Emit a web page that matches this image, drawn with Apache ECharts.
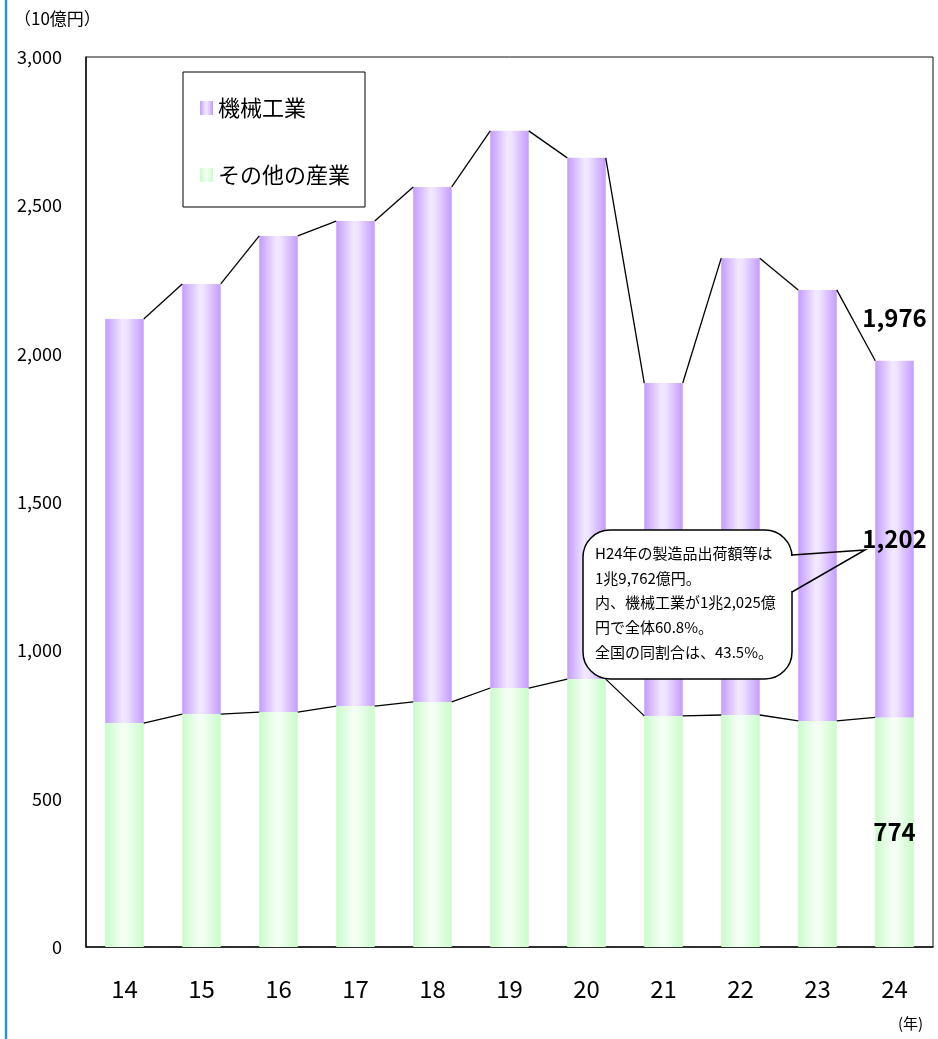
<!DOCTYPE html>
<html>
<head>
<meta charset="utf-8">
<title>製造品出荷額等の推移</title>
<script src="https://cdn.jsdelivr.net/npm/echarts@6/dist/echarts.min.js"></script>
<style>
  html, body { margin: 0; padding: 0; background: #fff; }
  #chart { width: 938px; height: 1039px; }
</style>
</head>
<body>
<div id="chart"></div>
<script>
// 年（平成）
var years = ['14', '15', '16', '17', '18', '19', '20', '21', '22', '23', '24']
// その他の産業（10億円）
var otherValues = [755, 785, 792, 812, 826, 873, 903, 779, 782, 762, 774]
// 機械工業（10億円）
var machineValues = [1362, 1450, 1605, 1635, 1736, 1878, 1757, 1122, 1540, 1453, 1202]
var yTicks = [0, 500, 1000, 1500, 2000, 2500, 3000]

var totals = otherValues.map(function (v, i) { return v + machineValues[i] })
var last = years.length - 1
var fontJP = '"Noto Sans CJK JP", "Noto Sans", sans-serif'

function fmt(v) {
  return Number(v).toLocaleString('en-US')
}

// 系列線（棒の上端どうしを結ぶ線）用データ
function linkData(arr) {
  return arr.slice(0, -1).map(function (v, i) { return [i, v, arr[i + 1]] })
}

function renderLink(params, api) {
  var i = api.value(0)
  var a = api.coord([i, api.value(1)])
  var b = api.coord([i + 1, api.value(2)])
  var hw = api.size([1, 0])[0] * 0.25
  return {
    type: 'line',
    shape: { x1: a[0] + hw, y1: a[1], x2: b[0] - hw, y2: b[1] },
    style: { stroke: '#000', lineWidth: 1.3 }
  }
}

var purple = new echarts.graphic.LinearGradient(0, 0, 1, 0, [
  { offset: 0, color: '#c59cff' },
  { offset: 0.45, color: '#f2e8ff' },
  { offset: 0.55, color: '#efe3ff' },
  { offset: 1, color: '#c59cff' }
])
var green = new echarts.graphic.LinearGradient(0, 0, 1, 0, [
  { offset: 0, color: '#c9fcc9' },
  { offset: 0.45, color: '#f6fff6' },
  { offset: 0.55, color: '#f2fff2' },
  { offset: 1, color: '#c9fcc9' }
])

var chart = echarts.init(document.getElementById('chart'))
chart.setOption({
  backgroundColor: '#fff',
  animation: false,
  textStyle: { fontFamily: fontJP },
  grid: {
    left: 86, right: 5, top: 57, bottom: 92,
    show: true, borderColor: '#111', borderWidth: 1
  },
  legend: {
    orient: 'vertical',
    left: 183, top: 72,
    padding: [25, 15, 21, 17],
    itemGap: 45,
    itemWidth: 13, itemHeight: 14,
    borderColor: '#000', borderWidth: 1,
    backgroundColor: '#fff',
    icon: 'rect',
    data: ['機械工業', 'その他の産業'],
    textStyle: { fontSize: 22, color: '#000', fontFamily: fontJP }
  },
  xAxis: {
    type: 'category',
    data: years,
    axisLine: { lineStyle: { color: '#111', width: 1.5 } },
    axisTick: { show: false },
    axisLabel: { fontSize: 24, color: '#000', margin: 30 }
  },
  yAxis: {
    type: 'value',
    min: yTicks[0],
    max: yTicks[yTicks.length - 1],
    interval: 500,
    axisLine: { show: true, lineStyle: { color: '#111', width: 1.5 } },
    axisTick: { show: false },
    splitLine: { show: false },
    axisLabel: { fontSize: 18, color: '#000', margin: 24, formatter: fmt }
  },
  series: [
    {
      name: 'その他の産業',
      type: 'bar',
      stack: 'total',
      barWidth: '50%',
      itemStyle: { color: green },
      data: otherValues.map(function (v, i) {
        return i === last
          ? { value: v, label: { show: true, position: 'inside', formatter: fmt(v), fontSize: 24, fontWeight: 'bold', color: '#000' } }
          : v
      })
    },
    {
      name: '機械工業',
      type: 'bar',
      stack: 'total',
      barWidth: '50%',
      itemStyle: { color: purple },
      data: machineValues.map(function (v, i) {
        return i === last
          ? { value: v, label: { show: true, position: 'inside', formatter: fmt(v), fontSize: 24, fontWeight: 'bold', color: '#000' } }
          : v
      })
    },
    {
      name: 'total-label',
      type: 'scatter',
      symbolSize: 0,
      silent: true,
      itemStyle: { opacity: 1 },
      data: [[last, totals[last]]],
      label: {
        show: true, position: 'top', distance: 31,
        formatter: function (p) { return fmt(p.value[1]) },
        fontSize: 24, fontWeight: 'bold', color: '#000'
      }
    },
    {
      name: 'link-total',
      type: 'custom',
      silent: true,
      z: 3,
      renderItem: renderLink,
      encode: { x: 0, y: 1 },
      data: linkData(totals)
    },
    {
      name: 'link-other',
      type: 'custom',
      silent: true,
      z: 3,
      renderItem: renderLink,
      encode: { x: 0, y: 1 },
      data: linkData(otherValues)
    }
  ],
  graphic: [
    {
      type: 'line', z: 100,
      shape: { x1: 6, y1: 0, x2: 6, y2: 1039 },
      style: { stroke: '#1e90ff', lineWidth: 2.4 }
    },
    {
      type: 'text', z: 100, left: 14, top: 10,
      style: { text: '（10億円）', fontSize: 17, fill: '#000', fontFamily: fontJP }
    },
    {
      type: 'text', z: 100, left: 898, top: 1016,
      style: { text: '(年)', fontSize: 15, fill: '#000', fontFamily: fontJP }
    },
    {
      type: 'rect', z: 100,
      shape: { x: 583, y: 530, width: 209, height: 149, r: 27 },
      style: { fill: '#fff', stroke: '#000', lineWidth: 1.5 }
    },
    {
      // 吹き出しの付け根部分の枠線を消す
      type: 'rect', z: 101,
      shape: { x: 790.5, y: 556, width: 3, height: 35 },
      style: { fill: '#fff' }
    },
    {
      type: 'polyline', z: 102,
      shape: { points: [[792, 555], [865, 550], [792, 592]] },
      style: { fill: null, stroke: '#000', lineWidth: 1.5 }
    },
    {
      type: 'text', z: 103, left: 595, top: 541,
      style: {
        text: 'H24年の製造品出荷額等は\n1兆9,762億円。\n内、機械工業が1兆2,025億\n円で全体60.8%。\n全国の同割合は、43.5%。',
        fontSize: 15, lineHeight: 24.7, fill: '#000', fontFamily: fontJP
      }
    }
  ]
})
window.onresize = function () {
  chart.resize()
}
</script>
</body>
</html>
